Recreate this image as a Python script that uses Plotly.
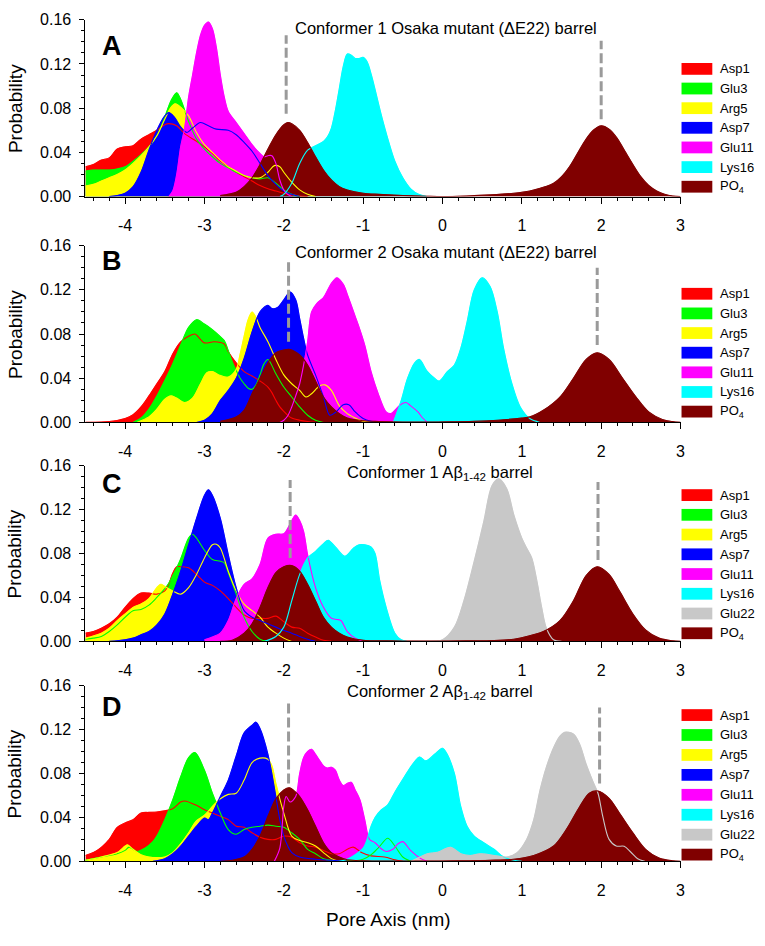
import plotly.graph_objects as go

# ======================= DATA =======================
# ---- Panel A : Conformer 1 Osaka mutant ----
A_ASP1_X = [-4.5, -4.4, -4.3, -4.2, -4.1, -4.0, -3.9, -3.8, -3.7, -3.6, -3.5, -3.45, -3.35, -3.25, -3.1, -3.0, -2.9, -2.8, -2.7, -2.6, -2.5, -2.4, -2.3, -2.2, -2.1, -2.0, -1.9, -1.8, -1.7]
A_ASP1_Y = [0.027, 0.029, 0.033, 0.035, 0.043, 0.045, 0.046, 0.052, 0.056, 0.060, 0.065, 0.066, 0.064, 0.057, 0.050, 0.045, 0.039, 0.032, 0.027, 0.022, 0.018, 0.014, 0.010, 0.007, 0.005, 0.003, 0.0015, 0.0005, 0.0]
A_GLU3_X = [-4.5, -4.4, -4.3, -4.2, -4.1, -4.0, -3.9, -3.8, -3.7, -3.6, -3.5, -3.42, -3.35, -3.3, -3.2, -3.1, -3.0, -2.9, -2.8, -2.7, -2.6, -2.5, -2.4, -2.3, -2.2, -2.1, -2.0, -1.9, -1.8]
A_GLU3_Y = [0.023, 0.024, 0.024, 0.024, 0.025, 0.027, 0.032, 0.038, 0.045, 0.055, 0.072, 0.087, 0.094, 0.088, 0.068, 0.052, 0.043, 0.036, 0.030, 0.026, 0.022, 0.019, 0.017, 0.016, 0.017, 0.012, 0.006, 0.002, 0.0]
A_ARG5_X = [-4.5, -4.4, -4.3, -4.2, -4.1, -4.0, -3.9, -3.8, -3.7, -3.6, -3.5, -3.42, -3.37, -3.3, -3.2, -3.1, -3.0, -2.9, -2.8, -2.7, -2.6, -2.5, -2.4, -2.3, -2.2, -2.12, -2.05, -2.0, -1.9, -1.8, -1.7, -1.6]
A_ARG5_Y = [0.0095, 0.011, 0.014, 0.017, 0.020, 0.024, 0.030, 0.037, 0.045, 0.055, 0.070, 0.081, 0.084, 0.081, 0.073, 0.058, 0.047, 0.040, 0.033, 0.027, 0.023, 0.019, 0.017, 0.017, 0.022, 0.028, 0.027, 0.022, 0.013, 0.006, 0.002, 0.0]
A_ASP7_X = [-4.2, -4.1, -4.0, -3.9, -3.8, -3.7, -3.6, -3.5, -3.45, -3.38, -3.3, -3.22, -3.15, -3.05, -2.95, -2.85, -2.7, -2.6, -2.5, -2.4, -2.3, -2.2, -2.1, -2.0, -1.9, -1.8]
A_ASP7_Y = [0.0, 0.001, 0.003, 0.009, 0.022, 0.042, 0.060, 0.073, 0.076, 0.072, 0.063, 0.058, 0.062, 0.067, 0.064, 0.061, 0.060, 0.056, 0.049, 0.041, 0.030, 0.019, 0.011, 0.005, 0.002, 0.0]
A_GLU11_X = [-3.45, -3.4, -3.35, -3.3, -3.25, -3.2, -3.15, -3.1, -3.05, -3.0, -2.95, -2.9, -2.85, -2.8, -2.75, -2.7, -2.6, -2.5, -2.4, -2.3, -2.25, -2.2, -2.15, -2.1, -2.05, -2.0, -1.95, -1.9]
A_GLU11_Y = [0.0, 0.005, 0.02, 0.045, 0.062, 0.09, 0.11, 0.13, 0.146, 0.155, 0.158, 0.152, 0.135, 0.11, 0.09, 0.077, 0.067, 0.057, 0.047, 0.039, 0.036, 0.037, 0.037, 0.030, 0.015, 0.006, 0.002, 0.0]
A_LYS16_X = [-2.05, -2.0, -1.9, -1.8, -1.7, -1.6, -1.5, -1.45, -1.4, -1.35, -1.3, -1.25, -1.2, -1.15, -1.1, -1.05, -1.0, -0.95, -0.9, -0.85, -0.8, -0.75, -0.7, -0.6, -0.5, -0.4, -0.3, -0.2]
A_LYS16_Y = [0.0, 0.002, 0.012, 0.030, 0.042, 0.046, 0.050, 0.054, 0.062, 0.078, 0.098, 0.118, 0.129, 0.128, 0.125, 0.125, 0.126, 0.122, 0.111, 0.097, 0.082, 0.068, 0.055, 0.032, 0.017, 0.007, 0.002, 0.0]
A_PO4_X = [-2.8, -2.6, -2.5, -2.4, -2.3, -2.2, -2.1, -2.0, -1.95, -1.9, -1.8, -1.7, -1.6, -1.5, -1.4, -1.3, -1.2, -1.0, -0.8, -0.5, -0.2, 0.0, 0.3, 0.6, 0.9, 1.1, 1.3, 1.4, 1.5, 1.6, 1.7, 1.8, 1.9, 2.0, 2.1, 2.2, 2.3, 2.4, 2.5, 2.6, 2.7, 2.8, 2.9, 3.0]
A_PO4_Y = [0.001, 0.004, 0.009, 0.017, 0.029, 0.043, 0.056, 0.065, 0.067, 0.066, 0.060, 0.049, 0.036, 0.024, 0.015, 0.009, 0.006, 0.003, 0.002, 0.001, 0.0003, 0.0, 0.0005, 0.0015, 0.003, 0.005, 0.009, 0.012, 0.018, 0.027, 0.039, 0.051, 0.060, 0.064, 0.061, 0.053, 0.041, 0.029, 0.018, 0.010, 0.005, 0.002, 0.0005, 0.0]

# ---- Panel B : Conformer 2 Osaka mutant ----
B_ASP1_X = [-4.5, -4.3, -4.2, -4.1, -4.0, -3.9, -3.8, -3.7, -3.6, -3.5, -3.4, -3.3, -3.2, -3.12, -3.0, -2.88, -2.75, -2.7, -2.6, -2.5, -2.4, -2.3, -2.2, -2.15, -2.1, -2.05, -2.0, -1.95, -1.9, -1.8, -1.7, -1.6]
B_ASP1_Y = [0.0, 0.0003, 0.0008, 0.0018, 0.0035, 0.007, 0.014, 0.024, 0.035, 0.046, 0.062, 0.073, 0.078, 0.080, 0.072, 0.073, 0.071, 0.064, 0.054, 0.046, 0.042, 0.0375, 0.032, 0.027, 0.020, 0.014, 0.010, 0.0065, 0.004, 0.002, 0.0008, 0.0]
B_GLU3_X = [-3.9, -3.8, -3.7, -3.6, -3.5, -3.4, -3.3, -3.2, -3.1, -3.0, -2.92, -2.82, -2.75, -2.7, -2.65, -2.6, -2.55, -2.5, -2.45, -2.4, -2.35, -2.3, -2.25, -2.2, -2.1, -2.0, -1.9, -1.8, -1.7, -1.6, -1.5]
B_GLU3_Y = [0.0, 0.004, 0.012, 0.024, 0.038, 0.053, 0.070, 0.086, 0.093, 0.089, 0.085, 0.079, 0.074, 0.065, 0.055, 0.047, 0.040, 0.035, 0.031, 0.030, 0.034, 0.043, 0.053, 0.057, 0.044, 0.032, 0.023, 0.014, 0.0065, 0.002, 0.0]
B_ARG5_X = [-3.85, -3.7, -3.6, -3.5, -3.42, -3.35, -3.25, -3.15, -3.05, -2.97, -2.9, -2.82, -2.7, -2.6, -2.55, -2.5, -2.45, -2.4, -2.35, -2.3, -2.2, -2.1, -2.0, -1.9, -1.8, -1.72, -1.65, -1.55, -1.48, -1.4, -1.3, -1.2, -1.1, -1.0, -0.9]
B_ARG5_Y = [0.0, 0.005, 0.012, 0.021, 0.024, 0.022, 0.018, 0.022, 0.035, 0.045, 0.046, 0.043, 0.041, 0.048, 0.062, 0.078, 0.093, 0.100, 0.095, 0.086, 0.073, 0.057, 0.043, 0.035, 0.029, 0.023, 0.026, 0.033, 0.034, 0.029, 0.015, 0.008, 0.004, 0.001, 0.0]
B_ASP7_X = [-3.1, -3.0, -2.9, -2.8, -2.7, -2.6, -2.5, -2.4, -2.3, -2.2, -2.15, -2.08, -2.0, -1.92, -1.85, -1.8, -1.75, -1.7, -1.6, -1.5, -1.42, -1.35, -1.25, -1.18, -1.1, -1.0, -0.9, -0.8]
B_ASP7_Y = [0.0, 0.002, 0.008, 0.020, 0.029, 0.040, 0.058, 0.082, 0.100, 0.106, 0.103, 0.104, 0.111, 0.118, 0.111, 0.094, 0.076, 0.061, 0.043, 0.023, 0.0065, 0.009, 0.016, 0.016, 0.0095, 0.0035, 0.001, 0.0]
B_GLU11_X = [-2.05, -2.0, -1.95, -1.9, -1.85, -1.8, -1.75, -1.7, -1.65, -1.58, -1.5, -1.4, -1.33, -1.25, -1.19, -1.1, -1.06, -0.98, -0.9, -0.81, -0.71, -0.65, -0.6, -0.53, -0.46, -0.4, -0.31, -0.25, -0.19]
B_GLU11_Y = [0.0, 0.002, 0.006, 0.014, 0.024, 0.035, 0.052, 0.073, 0.100, 0.108, 0.113, 0.126, 0.131, 0.125, 0.114, 0.096, 0.088, 0.070, 0.046, 0.026, 0.0095, 0.008, 0.011, 0.016, 0.018, 0.015, 0.0095, 0.004, 0.0]
B_LYS16_X = [-0.62, -0.52, -0.44, -0.35, -0.29, -0.2, -0.1, -0.04, 0.06, 0.15, 0.23, 0.31, 0.4, 0.5, 0.6, 0.69, 0.77, 0.875, 0.98, 1.1, 1.23]
B_LYS16_Y = [0.0, 0.020, 0.040, 0.054, 0.057, 0.047, 0.040, 0.0375, 0.046, 0.052, 0.067, 0.091, 0.120, 0.131, 0.123, 0.100, 0.067, 0.035, 0.014, 0.0035, 0.0]
B_PO4_X = [-2.8, -2.6, -2.5, -2.4, -2.3, -2.2, -2.1, -2.0, -1.92, -1.8, -1.7, -1.6, -1.5, -1.4, -1.3, -1.2, -1.0, -0.8, -0.5, -0.2, 0.1, 0.4, 0.7, 1.0, 1.1, 1.27, 1.48, 1.65, 1.81, 1.95, 2.1, 2.27, 2.44, 2.6, 2.77, 2.9, 3.0]
B_PO4_Y = [0.001, 0.005, 0.011, 0.026, 0.040, 0.054, 0.063, 0.0655, 0.066, 0.061, 0.052, 0.0375, 0.023, 0.014, 0.008, 0.004, 0.0015, 0.0008, 0.0003, 0.0003, 0.0005, 0.001, 0.002, 0.004, 0.005, 0.011, 0.023, 0.040, 0.057, 0.063, 0.057, 0.040, 0.023, 0.0095, 0.0027, 0.0007, 0.0]

# ---- Panel C : Conformer 1 Abeta1-42 ----
C_ASP1_X = [-4.5, -4.4, -4.3, -4.2, -4.1, -4.0, -3.9, -3.8, -3.7, -3.6, -3.5, -3.45, -3.4, -3.35, -3.3, -3.2, -3.1, -3.0, -2.9, -2.8, -2.7, -2.6, -2.5, -2.4, -2.3, -2.2, -2.1, -2.0, -1.9, -1.8, -1.7, -1.6, -1.5, -1.4]
C_ASP1_Y = [0.0075, 0.009, 0.012, 0.016, 0.022, 0.031, 0.039, 0.044, 0.044, 0.043, 0.046, 0.052, 0.062, 0.068, 0.068, 0.067, 0.061, 0.054, 0.051, 0.046, 0.039, 0.031, 0.024, 0.021, 0.021, 0.021, 0.023, 0.018, 0.013, 0.012, 0.0075, 0.004, 0.001, 0.0]
C_GLU3_X = [-4.5, -4.4, -4.3, -4.2, -4.1, -4.0, -3.9, -3.8, -3.7, -3.6, -3.5, -3.45, -3.4, -3.35, -3.3, -3.2, -3.15, -3.1, -3.0, -2.9, -2.8, -2.75, -2.7, -2.6, -2.5, -2.4, -2.3, -2.2]
C_GLU3_Y = [0.002, 0.003, 0.0045, 0.009, 0.015, 0.022, 0.028, 0.029, 0.033, 0.040, 0.048, 0.053, 0.060, 0.067, 0.075, 0.094, 0.0975, 0.094, 0.083, 0.0745, 0.073, 0.0715, 0.0626, 0.043, 0.022, 0.009, 0.002, 0.0]
C_ARG5_X = [-4.5, -4.4, -4.3, -4.2, -4.1, -4.0, -3.9, -3.8, -3.7, -3.6, -3.55, -3.5, -3.4, -3.3, -3.2, -3.1, -3.0, -2.9, -2.85, -2.8, -2.7, -2.6, -2.5, -2.4, -2.3, -2.2, -2.1, -2.0, -1.9]
C_ARG5_Y = [0.003, 0.005, 0.0075, 0.012, 0.019, 0.025, 0.031, 0.034, 0.039, 0.049, 0.052, 0.050, 0.046, 0.043, 0.049, 0.061, 0.076, 0.088, 0.0885, 0.085, 0.064, 0.046, 0.034, 0.028, 0.022, 0.013, 0.0075, 0.003, 0.0]
C_ASP7_X = [-4.2, -4.0, -3.9, -3.8, -3.7, -3.6, -3.5, -3.4, -3.3, -3.2, -3.1, -3.0, -2.95, -2.9, -2.8, -2.7, -2.6, -2.5, -2.4, -2.3, -2.2, -2.1, -2.0, -1.9, -1.8, -1.7, -1.6]
C_ASP7_Y = [0.0, 0.0015, 0.003, 0.006, 0.009, 0.015, 0.025, 0.043, 0.064, 0.088, 0.112, 0.133, 0.138, 0.133, 0.112, 0.079, 0.049, 0.028, 0.022, 0.019, 0.016, 0.013, 0.010, 0.0075, 0.0045, 0.002, 0.0]
C_GLU11_X = [-3.0, -2.9, -2.8, -2.7, -2.6, -2.5, -2.4, -2.3, -2.2, -2.1, -2.0, -1.95, -1.9, -1.85, -1.8, -1.75, -1.7, -1.6, -1.5, -1.4, -1.33, -1.28, -1.2, -1.1, -1.0]
C_GLU11_Y = [0.0015, 0.004, 0.0075, 0.019, 0.039, 0.052, 0.057, 0.070, 0.094, 0.0975, 0.098, 0.103, 0.110, 0.115, 0.110, 0.100, 0.079, 0.049, 0.031, 0.021, 0.020, 0.019, 0.009, 0.003, 0.0]
C_LYS16_X = [-2.25, -2.1, -2.0, -1.9, -1.8, -1.7, -1.6, -1.5, -1.44, -1.35, -1.23, -1.12, -1.05, -0.98, -0.9, -0.85, -0.79, -0.71, -0.6, -0.52, -0.45]
C_LYS16_Y = [0.0, 0.0045, 0.013, 0.037, 0.061, 0.076, 0.082, 0.089, 0.092, 0.086, 0.0775, 0.085, 0.088, 0.088, 0.086, 0.080, 0.055, 0.031, 0.0075, 0.0015, 0.0]
C_GLU22_X = [-0.2, 0.0, 0.15, 0.27, 0.4, 0.52, 0.625, 0.71, 0.81, 0.9, 1.0, 1.06, 1.125, 1.19, 1.25, 1.31, 1.4, 1.5]
C_GLU22_Y = [0.0, 0.0015, 0.013, 0.037, 0.073, 0.109, 0.142, 0.148, 0.139, 0.115, 0.094, 0.085, 0.076, 0.055, 0.031, 0.012, 0.0015, 0.0]
C_PO4_X = [-2.8, -2.65, -2.5, -2.4, -2.3, -2.2, -2.1, -2.0, -1.9, -1.8, -1.7, -1.6, -1.5, -1.4, -1.3, -1.2, -1.0, -0.7, -0.4, 0.0, 0.3, 0.65, 0.9, 1.06, 1.27, 1.48, 1.65, 1.81, 1.95, 2.1, 2.23, 2.4, 2.56, 2.73, 2.9, 3.0]
C_PO4_Y = [0.0, 0.001, 0.0075, 0.016, 0.031, 0.049, 0.0626, 0.068, 0.069, 0.064, 0.052, 0.037, 0.022, 0.013, 0.0075, 0.004, 0.001, 0.0005, 0.0003, 0.0003, 0.0005, 0.0008, 0.002, 0.0045, 0.009, 0.019, 0.037, 0.060, 0.068, 0.061, 0.046, 0.025, 0.0105, 0.003, 0.0005, 0.0]

# ---- Panel D : Conformer 2 Abeta1-42 ----
D_ASP1_X = [-4.5, -4.4, -4.3, -4.2, -4.1, -4.0, -3.9, -3.8, -3.7, -3.6, -3.5, -3.4, -3.3, -3.25, -3.1, -3.0, -2.9, -2.8, -2.7, -2.6, -2.5, -2.4, -2.3, -2.2, -2.1, -2.0, -1.9, -1.8, -1.7, -1.6, -1.5, -1.4, -1.3, -1.2, -1.125, -1.02, -0.9, -0.73, -0.6, -0.5]
D_ASP1_Y = [0.0054, 0.008, 0.0128, 0.020, 0.031, 0.035, 0.038, 0.044, 0.0446, 0.045, 0.046, 0.048, 0.054, 0.055, 0.051, 0.047, 0.044, 0.041, 0.038, 0.032, 0.031, 0.026, 0.022, 0.020, 0.020, 0.023, 0.022, 0.017, 0.014, 0.013, 0.010, 0.007, 0.007, 0.011, 0.013, 0.008, 0.005, 0.004, 0.0015, 0.0]
D_GLU3_X = [-4.5, -4.3, -4.1, -4.0, -3.95, -3.85, -3.75, -3.65, -3.6, -3.5, -3.4, -3.3, -3.2, -3.12, -3.0, -2.9, -2.85, -2.8, -2.7, -2.6, -2.5, -2.4, -2.3, -2.2, -2.1, -2.0, -1.9, -1.8, -1.7, -1.6, -1.5, -1.4, -1.2, -1.0, -0.9, -0.8, -0.69, -0.6, -0.5, -0.4]
D_GLU3_Y = [0.001, 0.004, 0.007, 0.010, 0.013, 0.009, 0.012, 0.018, 0.023, 0.038, 0.056, 0.077, 0.0945, 0.099, 0.083, 0.062, 0.053, 0.044, 0.029, 0.0247, 0.029, 0.031, 0.032, 0.033, 0.032, 0.031, 0.026, 0.020, 0.011, 0.007, 0.0025, 0.001, 0.0003, 0.002, 0.006, 0.013, 0.021, 0.014, 0.004, 0.0]
D_ARG5_X = [-4.5, -4.3, -4.1, -4.0, -3.97, -3.9, -3.8, -3.7, -3.6, -3.5, -3.4, -3.3, -3.2, -3.1, -3.0, -2.9, -2.8, -2.7, -2.6, -2.5, -2.4, -2.3, -2.2, -2.15, -2.1, -2.0, -1.9, -1.8, -1.7, -1.6, -1.5, -1.4, -1.3]
D_ARG5_Y = [0.001, 0.004, 0.008, 0.014, 0.015, 0.011, 0.006, 0.004, 0.0035, 0.004, 0.008, 0.016, 0.026, 0.037, 0.042, 0.050, 0.057, 0.061, 0.062, 0.074, 0.090, 0.094, 0.093, 0.087, 0.071, 0.044, 0.023, 0.019, 0.017, 0.014, 0.008, 0.0025, 0.0]
D_ASP7_X = [-3.65, -3.5, -3.4, -3.3, -3.2, -3.1, -3.0, -2.95, -2.9, -2.8, -2.7, -2.6, -2.5, -2.4, -2.35, -2.3, -2.2, -2.1, -2.05, -2.0, -1.95, -1.9, -1.8, -1.6, -1.4, -1.2]
D_ASP7_Y = [0.0, 0.0025, 0.007, 0.014, 0.023, 0.032, 0.0395, 0.038, 0.044, 0.059, 0.074, 0.096, 0.117, 0.124, 0.1267, 0.121, 0.0975, 0.059, 0.038, 0.023, 0.014, 0.008, 0.004, 0.002, 0.001, 0.0]
D_GLU11_X = [-2.12, -2.05, -2.0, -1.97, -1.92, -1.85, -1.8, -1.75, -1.7, -1.65, -1.6, -1.55, -1.5, -1.45, -1.4, -1.35, -1.3, -1.25, -1.2, -1.15, -1.1, -1.04, -0.98, -0.92, -0.85, -0.78, -0.71, -0.625, -0.56, -0.5, -0.4, -0.27, -0.19]
D_GLU11_Y = [0.0, 0.012, 0.050, 0.059, 0.054, 0.059, 0.080, 0.0945, 0.100, 0.102, 0.0975, 0.092, 0.087, 0.085, 0.0857, 0.083, 0.074, 0.069, 0.071, 0.072, 0.065, 0.056, 0.038, 0.020, 0.017, 0.012, 0.009, 0.011, 0.016, 0.018, 0.0098, 0.0024, 0.0]
D_LYS16_X = [-1.3, -1.2, -1.1, -1.0, -0.95, -0.9, -0.85, -0.77, -0.69, -0.6, -0.48, -0.375, -0.29, -0.21, -0.1, 0.0, 0.06, 0.15, 0.23, 0.31, 0.4, 0.52, 0.65, 0.77, 0.9, 1.0]
D_LYS16_Y = [0.0, 0.002, 0.006, 0.012, 0.020, 0.032, 0.040, 0.047, 0.0515, 0.063, 0.077, 0.0886, 0.095, 0.0915, 0.0975, 0.103, 0.0975, 0.080, 0.050, 0.032, 0.023, 0.017, 0.011, 0.004, 0.001, 0.0]
D_GLU22_X = [-0.4, -0.31, -0.19, -0.06, 0.1, 0.23, 0.35, 0.48, 0.65, 0.81, 0.94, 1.06, 1.15, 1.23, 1.31, 1.4, 1.48, 1.54, 1.65, 1.73, 1.81, 1.9, 1.96, 2.02, 2.1, 2.19, 2.29, 2.375, 2.46, 2.55]
D_GLU22_Y = [0.0, 0.003, 0.007, 0.0083, 0.0128, 0.007, 0.0054, 0.007, 0.0054, 0.004, 0.008, 0.020, 0.038, 0.065, 0.086, 0.1035, 0.114, 0.1175, 0.116, 0.1065, 0.0886, 0.072, 0.062, 0.041, 0.020, 0.014, 0.0137, 0.0083, 0.0024, 0.0]
D_PO4_X = [-2.8, -2.65, -2.5, -2.4, -2.3, -2.2, -2.1, -2.0, -1.93, -1.85, -1.8, -1.7, -1.6, -1.5, -1.4, -1.3, -1.2, -1.0, -0.6, -0.2, 0.2, 0.6, 0.9, 1.15, 1.4, 1.56, 1.73, 1.85, 1.96, 2.1, 2.23, 2.4, 2.56, 2.73, 2.9, 3.0]
D_PO4_Y = [0.0, 0.001, 0.004, 0.011, 0.023, 0.041, 0.057, 0.065, 0.067, 0.063, 0.059, 0.047, 0.032, 0.017, 0.008, 0.004, 0.0015, 0.0005, 0.0003, 0.0003, 0.0005, 0.001, 0.002, 0.0054, 0.014, 0.029, 0.050, 0.062, 0.064, 0.0574, 0.044, 0.026, 0.011, 0.003, 0.0005, 0.0]

# dashed marker lines: (x, y_start, y_end) per panel
A_MARKS = [(-1.97, 0.075, 0.146), (2.0, 0.070, 0.141)]
B_MARKS = [(-1.94, 0.073, 0.145), (1.95, 0.070, 0.140)]
C_MARKS = [(-1.92, 0.076, 0.147), (1.96, 0.074, 0.145)]
D_MARKS = [(-1.94, 0.071, 0.144), (1.98, 0.071, 0.140)]

LETTERS = ["A", "B", "C", "D"]
TITLES = ["Conformer 1 Osaka mutant (ΔE22) barrel",
          "Conformer 2 Osaka mutant (ΔE22) barrel",
          "Conformer 1 Aβ<sub>1-42</sub> barrel",
          "Conformer 2 Aβ<sub>1-42</sub> barrel"]
X_TICKS = [-4, -3, -2, -1, 0, 1, 2, 3]
X_TICK_TEXT = ["-4", "-3", "-2", "-1", "0", "1", "2", "3"]
Y_TICKS = [0.0, 0.04, 0.08, 0.12, 0.16]
Y_TICK_TEXT = ["0.00", "0.04", "0.08", "0.12", "0.16"]

COLORS = {"Asp1": "#ff0000", "Glu3": "#00ff00", "Arg5": "#ffff00", "Asp7": "#0000ff",
          "Glu11": "#ff00ff", "Lys16": "#00ffff", "Glu22": "#c8c8c8", "PO<sub>4</sub>": "#800000"}

PANELS = [
    [("Asp1", A_ASP1_X, A_ASP1_Y), ("Glu3", A_GLU3_X, A_GLU3_Y), ("Arg5", A_ARG5_X, A_ARG5_Y),
     ("Asp7", A_ASP7_X, A_ASP7_Y), ("Glu11", A_GLU11_X, A_GLU11_Y), ("Lys16", A_LYS16_X, A_LYS16_Y),
     ("PO<sub>4</sub>", A_PO4_X, A_PO4_Y)],
    [("Asp1", B_ASP1_X, B_ASP1_Y), ("Glu3", B_GLU3_X, B_GLU3_Y), ("Arg5", B_ARG5_X, B_ARG5_Y),
     ("Asp7", B_ASP7_X, B_ASP7_Y), ("Glu11", B_GLU11_X, B_GLU11_Y), ("Lys16", B_LYS16_X, B_LYS16_Y),
     ("PO<sub>4</sub>", B_PO4_X, B_PO4_Y)],
    [("Asp1", C_ASP1_X, C_ASP1_Y), ("Glu3", C_GLU3_X, C_GLU3_Y), ("Arg5", C_ARG5_X, C_ARG5_Y),
     ("Asp7", C_ASP7_X, C_ASP7_Y), ("Glu11", C_GLU11_X, C_GLU11_Y), ("Lys16", C_LYS16_X, C_LYS16_Y),
     ("Glu22", C_GLU22_X, C_GLU22_Y), ("PO<sub>4</sub>", C_PO4_X, C_PO4_Y)],
    [("Asp1", D_ASP1_X, D_ASP1_Y), ("Glu3", D_GLU3_X, D_GLU3_Y), ("Arg5", D_ARG5_X, D_ARG5_Y),
     ("Asp7", D_ASP7_X, D_ASP7_Y), ("Glu11", D_GLU11_X, D_GLU11_Y), ("Lys16", D_LYS16_X, D_LYS16_Y),
     ("Glu22", D_GLU22_X, D_GLU22_Y), ("PO<sub>4</sub>", D_PO4_X, D_PO4_Y)],
]
MARKS = [A_MARKS, B_MARKS, C_MARKS, D_MARKS]

# ======================= LAYOUT GEOMETRY (reference pixels) =======================
W, H = 765, 946
PLOT_LEFT, PLOT_RIGHT = 86, 685
PANEL_TOP = [12, 242, 466, 690]
PANEL_BOT = [192, 422, 645, 869]
LEGEND_FIRST = [62, 291, 496, 720]
LEGEND_STEP = [20, 20, 20.1, 20.3]
TITLE_POS = [(449, 20, "center"), (449, 248, "center"), (347, 474, "left"), (347, 697, "left")]
LETTER_POS = [(113, 39), (113, 258), (113, 485), (113, 712)]
FONT = "Arial, Liberation Sans, sans-serif"


def px(v):
    return v / W


def py(v):
    return 1 - v / H


fig = go.Figure()
shapes, annotations = [], []
layout_axes = {}

for i, series in enumerate(PANELS):
    n = "" if i == 0 else str(i + 1)
    xa, ya = "x" + n, "y" + n
    # fills, in drawing order
    for name, xs, ys in series:
        c = COLORS[name]
        fig.add_trace(go.Scatter(x=xs, y=ys, mode="lines", name=name, fill="tozeroy",
                                 fillcolor=c, line=dict(color=c, width=0.5, shape="spline", smoothing=0.9),
                                 showlegend=False, hoverinfo="skip", xaxis=xa, yaxis=ya))
    # outlines on top of all fills
    for name, xs, ys in series:
        c = COLORS[name]
        fig.add_trace(go.Scatter(x=xs, y=ys, mode="lines", name=name,
                                 line=dict(color=c, width=1.1, shape="spline", smoothing=0.9),
                                 showlegend=False, xaxis=xa, yaxis=ya))

    layout_axes["xaxis" + n] = dict(
        domain=[px(PLOT_LEFT), px(PLOT_RIGHT)], anchor=ya, range=[-4.5, 3.0],
        tickmode="array", tickvals=X_TICKS, ticktext=X_TICK_TEXT,
        ticks="outside", ticklen=6, tickwidth=1, tickcolor="black",
        minor=dict(tickmode="linear", tick0=0, dtick=0.2, ticks="outside", ticklen=3, tickcolor="black"),
        showline=True, linecolor="black", linewidth=1, showgrid=False, zeroline=False,
        tickfont=dict(family=FONT, size=16, color="black"), ticklabelstandoff=8)
    layout_axes["yaxis" + n] = dict(
        domain=[py(PANEL_BOT[i]), py(PANEL_TOP[i])], anchor=xa, range=[0, 0.16],
        tickmode="array", tickvals=Y_TICKS, ticktext=Y_TICK_TEXT,
        ticks="outside", ticklen=5, tickwidth=1, tickcolor="black",
        minor=dict(tickmode="linear", tick0=0, dtick=0.01, ticks="outside", ticklen=3, tickcolor="black"),
        showline=True, linecolor="black", linewidth=1, showgrid=False, zeroline=False,
        tickfont=dict(family=FONT, size=16, color="black"), ticklabelstandoff=5)

    # y-axis title
    annotations.append(dict(text="Probability", x=px(15), y=py((PANEL_TOP[i] + PANEL_BOT[i]) / 2),
                            xref="paper", yref="paper", xanchor="center", yanchor="middle",
                            textangle=-90, showarrow=False,
                            font=dict(family=FONT, size=19, color="black")))

    # dashed markers
    for (mx, y0, y1) in MARKS[i]:
        shapes.append(dict(type="line", xref=xa, yref=ya, x0=mx, x1=mx, y0=y0, y1=y1,
                           line=dict(color="#9a9a9a", width=3, dash="10px,4px")))

    # panel letter and title
    lx, ly = LETTER_POS[i]
    annotations.append(dict(text="<b>%s</b>" % LETTERS[i], x=px(lx), y=py(ly), xref="paper", yref="paper",
                            xanchor="center", yanchor="middle", showarrow=False,
                            font=dict(family=FONT, size=27, color="black")))
    tx, ty, anc = TITLE_POS[i]
    annotations.append(dict(text=TITLES[i], x=px(tx), y=py(ty), xref="paper", yref="paper",
                            xanchor=anc, yanchor="middle", showarrow=False,
                            font=dict(family=FONT, size=16.5, color="black")))

    # legend (colour swatches + labels)
    for k, (name, _, _) in enumerate(series):
        cy = LEGEND_FIRST[i] + LEGEND_STEP[i] * k
        shapes.append(dict(type="rect", xref="paper", yref="paper",
                           x0=px(686), x1=px(717), y0=py(cy + 6), y1=py(cy - 6),
                           fillcolor=COLORS[name], line=dict(width=0)))
        annotations.append(dict(text=name, x=px(723), y=py(cy), xref="paper", yref="paper",
                                xanchor="left", yanchor="middle", showarrow=False,
                                font=dict(family=FONT, size=13, color="black")))

annotations.append(dict(text="Pore Axis (nm)", x=px(391), y=py(928), xref="paper", yref="paper",
                        xanchor="center", yanchor="middle", showarrow=False,
                        font=dict(family=FONT, size=19, color="black")))

fig.update_layout(width=W, height=H, margin=dict(l=0, r=0, t=0, b=0),
                  paper_bgcolor="white", plot_bgcolor="white", showlegend=False,
                  shapes=shapes, annotations=annotations, **layout_axes)

# the page's default 8px body margin would push the 765x946 figure partly out of the window
fig.write_html("out.html", config={"displayModeBar": False},
               post_script="document.body.style.margin='0px';")
